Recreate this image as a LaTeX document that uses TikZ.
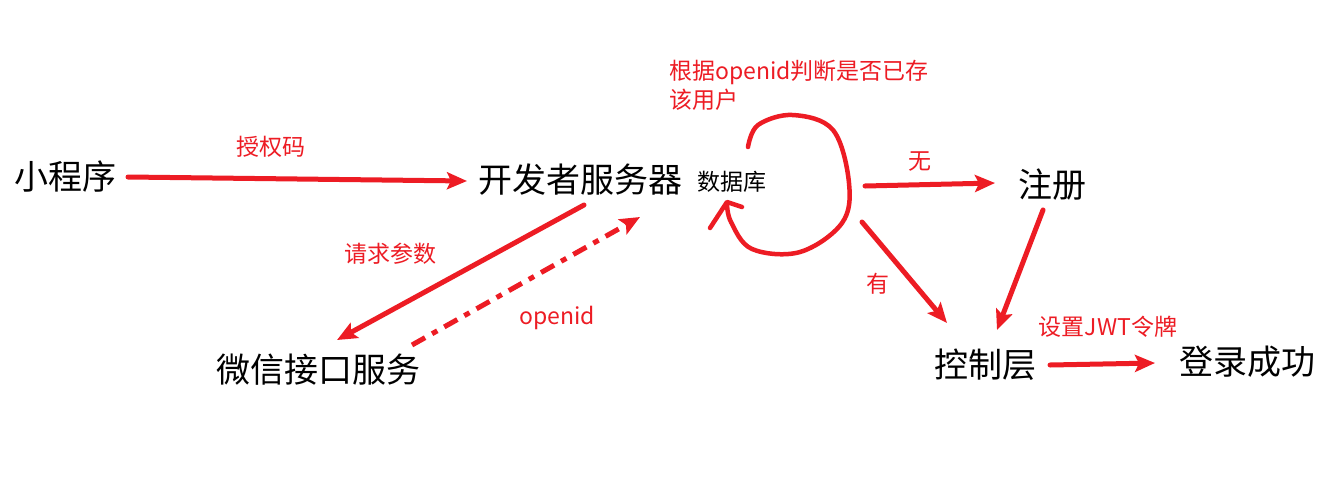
\documentclass[tikz,border=0pt]{standalone}
\usepackage{fontspec}
\setmainfont{Noto Sans CJK SC}
\usetikzlibrary{arrows.meta}
\definecolor{ired}{RGB}{237,28,36}
\begin{document}
\begin{tikzpicture}[x=1pt,y=-1pt,
  big/.style={font=\fontsize{34}{36}\selectfont, inner sep=0pt, anchor=center},
  small/.style={font=\fontsize{23}{26}\selectfont, inner sep=0pt, anchor=center},
  lbl/.style={text=ired, font=\fontsize{23}{29}\selectfont, inner sep=0pt},
  conn/.style={draw=ired, line width=5pt, line cap=round, -{Stealth[length=20pt,width=17pt,inset=4pt]}},
  dashconn/.style={conn, line cap=butt, dash pattern=on 15pt off 8pt on 6pt off 8pt},
  loopline/.style={draw=ired, line width=4.5pt, line cap=round, line join=round},
]
\useasboundingbox (0,0) rectangle (1330,488);
\fill[white] (0,0) rectangle (1330,488);

% nodes
\node[big] (xcx) at (65,177) {小程序};
\node[big] (kf) at (580,180) {开发者服务器};
\node[small] (db) at (732,182) {数据库};
\node[big] (zc) at (1052,185) {注册};
\node[big] (wx) at (318,370) {微信接口服务};
\node[big] (kz) at (985,365) {控制层};
\node[big] (dl) at (1247,362) {登录成功};

% labels
\node[lbl] (l1) at (271,147) {授权码};
\node[lbl] (l2) at (390,254) {请求参数};
\node[lbl] (l3) at (557,318) {openid};
\node[lbl] (l4) at (920,162) {无};
\node[lbl] (l5) at (878,284) {有};
\node[lbl] (l6) at (1108,327) {设置JWT令牌};
\node[lbl, anchor=north west, align=left] (l7) at (669,60) {根据openid判断是否已存\\该用户};

% connectors
\draw[conn] ([shift={(63,0)}]xcx.center) -- ([shift={(-113,1)}]kf.center);
\draw[conn] ([shift={(4,25)}]kf.center) -- ([shift={(19,-30)}]wx.center);
\draw[dashconn] ([shift={(94,-25)}]wx.center) -- ([shift={(60,37)}]kf.center);
\draw[conn] ([shift={(133,4)}]db.center) -- ([shift={(-57,-2)}]zc.center);
\draw[conn] ([shift={(130,40)}]db.center) -- ([shift={(-38,-42)}]kz.center);
\draw[conn] ([shift={(-9,25)}]zc.center) -- ([shift={(12,-35)}]kz.center);
\draw[conn] ([shift={(65,0)}]kz.center) -- ([shift={(-92,1)}]dl.center);

% self loop on database
\draw[loopline] plot[smooth, tension=0.6] coordinates {(748,147) (758,125) (793,115) (833,130) (849,183) (842,223) (800,252) (752,249) (731,222) (727,203)};
\draw[loopline] (710,228) -- (727,202) -- (742,207);
\end{tikzpicture}
\end{document}
